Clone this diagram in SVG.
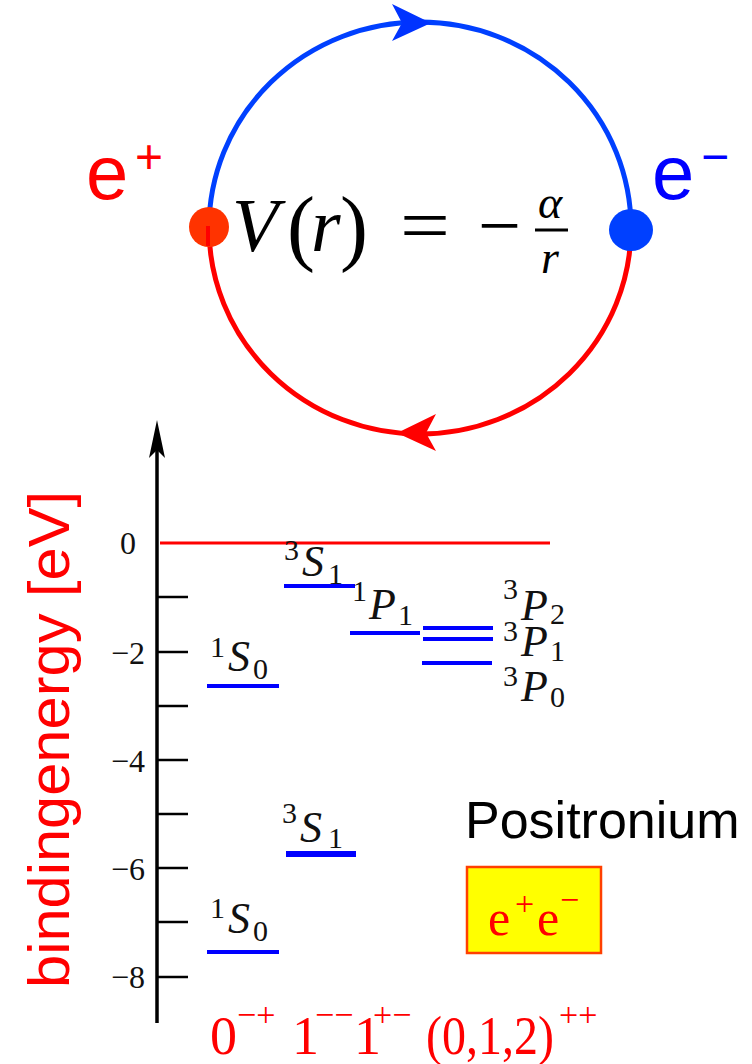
<svg xmlns="http://www.w3.org/2000/svg" width="752" height="1064" viewBox="0 0 752 1064">
<style>
.sans{font-family:"Liberation Sans",Arial,sans-serif}
.serif{font-family:"Liberation Serif","Times New Roman",serif}
.it{font-family:"Liberation Serif","Times New Roman",serif;font-style:italic}
.lbl{fill:#111}
.main{font-size:44px}
.scr{font-size:30px}
.tick{stroke:#000;stroke-width:2.5}
.lvl{stroke:#0000ff;stroke-width:4}
.num{font-family:"Liberation Serif","Times New Roman",serif;font-size:32px;fill:#111}
.jpc{font-family:"Liberation Serif","Times New Roman",serif;fill:#ff0000}
</style>
<rect width="752" height="1064" fill="#fff"/>

<g id="loop">
  <path d="M209,228 A211,206 0 0 1 631,228" fill="none" stroke="#0040ff" stroke-width="5"/>
  <path d="M631,228 A211,206 0 0 1 209,228" fill="none" stroke="#ff0000" stroke-width="5"/>
  <polygon points="431,23 392,4 402,23 392,41" fill="#0033ff"/>
  <polygon points="397,433 436,414 426,433 436,451" fill="#ff0000"/>
</g>

<g id="positron">
  <ellipse cx="209" cy="227" rx="20" ry="20" fill="#ff3300"/>
  <line x1="208" y1="226" x2="208" y2="246" stroke="#ff0000" stroke-width="4"/>
  <text class="sans" x="86" y="199" font-size="76" fill="#ff0000">e</text>
  <text class="sans" x="135" y="173" font-size="48" fill="#ff0000">+</text>
</g>

<g id="electron">
  <ellipse cx="631" cy="230" rx="22" ry="21" fill="#0040ff"/>
  <text class="sans" x="652" y="199" font-size="76" fill="#0000ff">e</text>
  <text class="sans" x="701" y="173" font-size="48" fill="#0000ff">−</text>
</g>

<g id="potential">
  <text class="it" x="232" y="251" font-size="76" fill="#000">V</text>
  <text class="serif" x="287" y="255" font-size="84" fill="#000">(</text>
  <text class="it" x="311" y="251" font-size="76" fill="#000">r</text>
  <text class="serif" x="340" y="255" font-size="84" fill="#000">)</text>
  <text class="serif" x="400" y="251" font-size="76" fill="#000" textLength="50" lengthAdjust="spacingAndGlyphs">=</text>
  <text class="serif" x="478" y="251" font-size="76" fill="#000" textLength="43" lengthAdjust="spacingAndGlyphs">−</text>
  <text class="it" x="538" y="218" font-size="46" fill="#000">α</text>
  <line x1="535" y1="230" x2="568" y2="230" stroke="#000" stroke-width="3"/>
  <text class="it" x="541" y="273" font-size="46" fill="#000">r</text>
</g>

<g id="axis">
  <line x1="157" y1="1023" x2="157" y2="440" stroke="#000" stroke-width="3.5"/>
  <polygon points="157,420 165,458 157,450 149,458" fill="#000"/>
  <line class="tick" x1="157" y1="597" x2="188" y2="597"/>
  <line class="tick" x1="157" y1="652" x2="188" y2="652"/>
  <line class="tick" x1="157" y1="706" x2="188" y2="706"/>
  <line class="tick" x1="157" y1="760" x2="188" y2="760"/>
  <line class="tick" x1="157" y1="814" x2="188" y2="814"/>
  <line class="tick" x1="157" y1="868" x2="188" y2="868"/>
  <line class="tick" x1="157" y1="922" x2="188" y2="922"/>
  <line class="tick" x1="157" y1="977" x2="188" y2="977"/>
  <text class="num" x="120" y="554">0</text>
  <text class="num" x="111" y="664">−2</text>
  <text class="num" x="111" y="772">−4</text>
  <text class="num" x="111" y="880">−6</text>
  <text class="num" x="111" y="988">−8</text>
  <text class="sans" transform="translate(69,988) rotate(-90)" font-size="58" fill="#ff0000" textLength="497" lengthAdjust="spacingAndGlyphs">bindingenergy [eV]</text>
</g>

<g id="threshold">
  <line x1="160" y1="543" x2="550" y2="543" stroke="#ff0000" stroke-width="3"/>
</g>

<g id="level-1S0-n2">
  <line class="lvl" x1="207" y1="686" x2="279" y2="686"/>
  <text class="serif scr lbl" x="210" y="657">1</text>
  <text class="it main lbl" x="228" y="671">S</text>
  <text class="serif scr lbl" x="253" y="679">0</text>
</g>

<g id="level-3S1-n2">
  <line class="lvl" x1="284" y1="586" x2="355" y2="586"/>
  <text class="serif scr lbl" x="284" y="560">3</text>
  <text class="it main lbl" x="302" y="576">S</text>
  <text class="serif scr lbl" x="328" y="584">1</text>
</g>

<g id="level-1P1">
  <line class="lvl" x1="350" y1="633" x2="420" y2="633"/>
  <text class="serif scr lbl" x="352" y="601">1</text>
  <text class="it main lbl" x="369" y="619">P</text>
  <text class="serif scr lbl" x="398" y="625">1</text>
</g>

<g id="level-3P2">
  <line class="lvl" x1="423" y1="628" x2="493" y2="628"/>
  <text class="serif scr lbl" x="503" y="599">3</text>
  <text class="it main lbl" x="521" y="620">P</text>
  <text class="serif scr lbl" x="550" y="624">2</text>
</g>

<g id="level-3P1">
  <line class="lvl" x1="423" y1="639" x2="493" y2="639"/>
  <text class="serif scr lbl" x="503" y="641">3</text>
  <text class="it main lbl" x="521" y="656">P</text>
  <text class="serif scr lbl" x="550" y="661">1</text>
</g>

<g id="level-3P0">
  <line class="lvl" x1="422" y1="663" x2="492" y2="663"/>
  <text class="serif scr lbl" x="503" y="686">3</text>
  <text class="it main lbl" x="521" y="701">P</text>
  <text class="serif scr lbl" x="550" y="707">0</text>
</g>

<g id="level-3S1-n1">
  <line x1="286" y1="854" x2="356" y2="854" stroke="#0000ff" stroke-width="6"/>
  <text class="serif scr lbl" x="282" y="823">3</text>
  <text class="it main lbl" x="300" y="842">S</text>
  <text class="serif scr lbl" x="328" y="848">1</text>
</g>

<g id="level-1S0-n1">
  <line class="lvl" x1="207" y1="952" x2="279" y2="952"/>
  <text class="serif scr lbl" x="210" y="918">1</text>
  <text class="it main lbl" x="228" y="933">S</text>
  <text class="serif scr lbl" x="253" y="941">0</text>
</g>

<g id="title">
  <text class="sans" x="465" y="838" font-size="52" fill="#000">Positronium</text>
</g>

<g id="box">
  <rect x="467" y="867" width="134" height="86" fill="#ffff00" stroke="#ff4000" stroke-width="2.5"/>
  <text class="jpc" x="488" y="935" font-size="50">e</text>
  <text class="jpc" x="515" y="915" font-size="34">+</text>
  <text class="jpc" x="537" y="935" font-size="50">e</text>
  <text class="jpc" x="560" y="911" font-size="34">−</text>
</g>

<g id="jpc-labels">
  <text class="jpc" x="210" y="1054" font-size="54">0</text>
  <text class="jpc" x="237" y="1026" font-size="34">−+</text>
  <text class="jpc" x="292" y="1054" font-size="54">1</text>
  <text class="jpc" x="315" y="1026" font-size="34">−−</text>
  <text class="jpc" x="354" y="1054" font-size="54">1</text>
  <text class="jpc" x="373" y="1026" font-size="34">+−</text>
  <text class="jpc" x="426" y="1054" font-size="54" textLength="128" lengthAdjust="spacingAndGlyphs">(0,1,2)</text>
  <text class="jpc" x="559" y="1026" font-size="34">++</text>
</g>
</svg>
